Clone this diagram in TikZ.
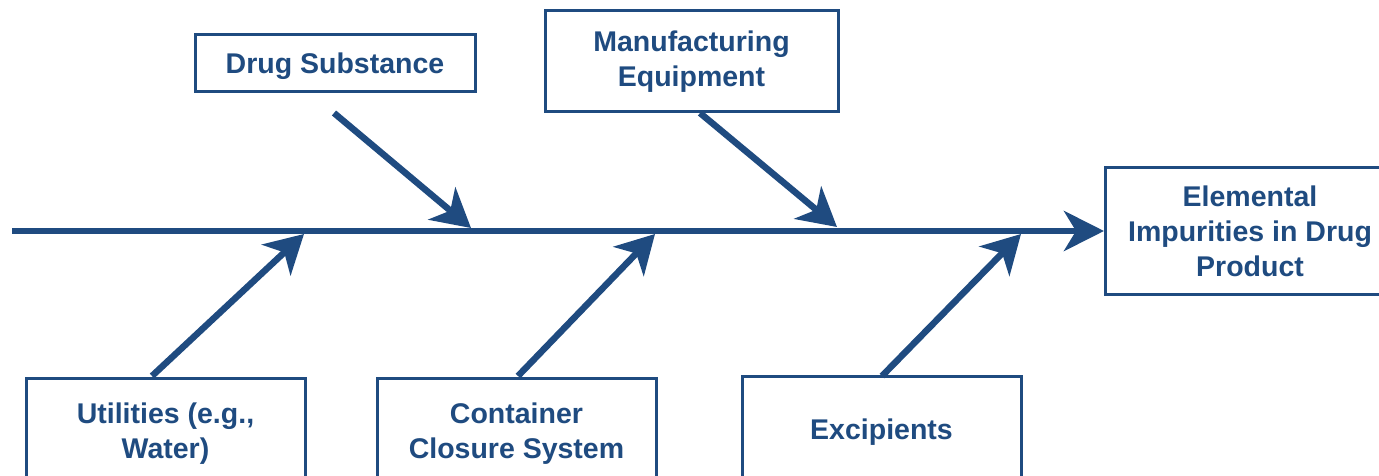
\documentclass[tikz,border=0pt]{standalone}
\usepackage{fontspec}
\setmainfont{Liberation Sans}
\usetikzlibrary{arrows.meta}
\definecolor{fishblue}{RGB}{31,75,128}
\begin{document}
\begin{tikzpicture}[x=1pt,y=-1pt,
  box/.style={draw=fishblue,line width=3pt,fill=white,text=fishblue,
    font=\fontsize{28.5}{35}\selectfont\bfseries,align=center,inner sep=0pt},
  bone/.style={draw=fishblue,line width=6.5pt,
    -{Stealth[length=38pt,width=42pt,inset=11pt]}},
  spine/.style={draw=fishblue,line width=6.5pt,
    -{Stealth[length=40pt,width=40pt,inset=12pt]}}]
\useasboundingbox (0,0) rectangle (1379,476);
\clip (0,0) rectangle (1379,476);
% boxes
\node[box,minimum width=280pt,minimum height=57pt,text height=20.5pt,text depth=0pt] (ds) at (335,63.5) {Drug Substance};
\node[box,minimum width=293pt,minimum height=101pt] (me) at (691.5,61.5) {Manufacturing\\Equipment};
\node[box,minimum width=290pt,minimum height=127pt] (ei) at (1250,231) {Elemental\\Impurities in Drug\\Product};
\node[box,minimum width=279pt,minimum height=110pt] (ut) at (165.5,433.5) {Utilities (e.g.,\\Water)};
\node[box,minimum width=279pt,minimum height=110pt] (cc) at (516.5,433.5) {Container\\Closure System};
\node[box,minimum width=279pt,minimum height=112pt] (ex) at (881.5,432) {Excipients};
% coordinates
\coordinate (s0) at (12,231);
\coordinate (s1) at (1104,231);
\coordinate (a1) at (334,113);  \coordinate (b1) at (471,228);
\coordinate (a2) at (700,113);  \coordinate (b2) at (837,227);
\coordinate (a3) at (152,376);  \coordinate (b3) at (304,234);
\coordinate (a4) at (518,376);  \coordinate (b4) at (655,234);
\coordinate (a5) at (882,376);  \coordinate (b5) at (1021,234);
% connectors
\draw[spine] (s0) -- (s1);
\draw[bone] (a1) -- (b1);
\draw[bone] (a2) -- (b2);
\draw[bone] (a3) -- (b3);
\draw[bone] (a4) -- (b4);
\draw[bone] (a5) -- (b5);
\end{tikzpicture}
\end{document}
